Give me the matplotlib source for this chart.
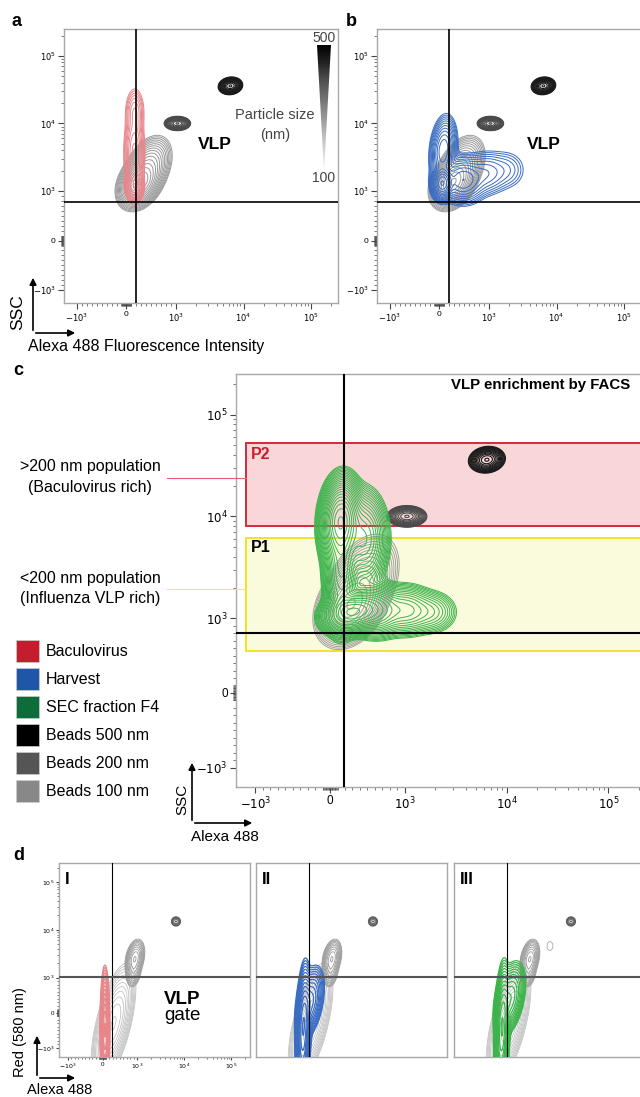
"""
VLP flow cytometry figure - contour plots on a biexponential-like axis
"""
import numpy as np
import matplotlib
matplotlib.use('Agg')
import matplotlib.pyplot as plt
from matplotlib.patches import Rectangle, Polygon, FancyArrowPatch
from matplotlib.lines import Line2D
from matplotlib.scale import SymmetricalLogTransform

W, H = 640, 1097

# ---- axis scale (FlowJo biex approximated by symlog) ----
LINTHRESH = 1000
LINSCALE = 0.66
LIMITS = (-1550, 2.5e5)
TICK_VALUES = [-1000, 0, 1000, 1e4, 1e5]
TICK_LABELS = ['$-10^3$', '0', '$10^3$', '$10^4$', '$10^5$']
LIN_MINOR = [k * 10 for k in range(1, 10)] + [k * 100 for k in range(1, 10)]
LOG_MINOR = [k * 10 ** e for e in (3, 4, 5) for k in range(2, 10) if k * 10 ** e < 2.5e5]
MINOR_TICKS = [-v for v in LIN_MINOR] + LIN_MINOR + LOG_MINOR

# ---- populations: (x centre, y centre, x spread, y spread [decades], corr, weight) ----
BEADS_500 = [(6400, 36000, 0.065, 0.047, 0.1, 1.0)]
BEADS_200 = [(1050, 10000, 0.07, 0.038, 0.0, 1.0)]
BEADS_100 = [(260, 1300, 0.12, 0.14, 0.3, 1.0),
             (420, 2100, 0.14, 0.19, 0.4, 0.4)]
BACULOVIRUS = [(160, 1200, 0.05, 0.08, 0.0, 1.0),
               (160, 3500, 0.06, 0.28, 0.0, 0.35),
               (170, 15000, 0.06, 0.15, 0.0, 0.12)]
HARVEST = [(60, 1300, 0.065, 0.10, 0.0, 1.0),
           (80, 4000, 0.08, 0.20, 0.2, 0.35),
           (476, 1460, 0.15, 0.15, 0.0, 0.25),
           (950, 1840, 0.15, 0.15, 0.0, 0.08),
           (1840, 2060, 0.15, 0.15, 0.0, 0.03)]
SEC_F4 = [(140, 9000, 0.08, 0.17, 0.1, 1.0),
          (450, 6000, 0.10, 0.20, 0.0, 0.25),
          (150, 3000, 0.07, 0.25, 0.0, 0.4),
          (300, 1150, 0.12, 0.085, 0.2, 0.8),
          (612, 1200, 0.12, 0.11, 0.0, 0.3),
          (1035, 1200, 0.12, 0.11, 0.0, 0.12),
          (1840, 1150, 0.12, 0.10, 0.0, 0.05)]

# panel d (Red 580 nm vs Alexa 488)
D_BEADS_500 = [(6700, 15000, 0.04, 0.04, 0.0, 1.0)]
D_BEADS_200 = [(940, 2600, 0.08, 0.15, 0.3, 1.0),
               (900, 1400, 0.07, 0.15, 0.2, 0.4)]
D_BEADS_100 = [(320, -300, 0.17, 0.45, 0.6, 1.0)]
D_EXTRA = [(2400, 4600, 0.04, 0.06, 0.0, 1.0)]
D_BACULOVIRUS = [(70, -500, 0.035, 0.45, 0.0, 1.0)]
D_HARVEST = [(110, -500, 0.06, 0.5, 0.25, 1.0), (300, 300, 0.12, 0.3, 0.4, 0.3)]
D_SEC_F4 = [(130, -500, 0.06, 0.5, 0.25, 1.0), (350, 400, 0.13, 0.3, 0.4, 0.35)]

LEGEND_LABELS = ['Baculovirus', 'Harvest', 'SEC fraction F4',
                 'Beads 500 nm', 'Beads 200 nm', 'Beads 100 nm']
LEGEND_COLORS = ['#c41e2e', '#1f56a8', '#0e6b3a', '#000000', '#555555', '#888888']

RED = '#e8868a'
BLUE = '#3a6cc2'
GREEN = '#3cb44b'

plt.rcParams['font.family'] = ['Liberation Sans', 'DejaVu Sans']
NARROW = ['Liberation Sans Narrow', 'Liberation Sans', 'DejaVu Sans']

TRANS = SymmetricalLogTransform(10, LINTHRESH, LINSCALE)


def to_units(v):
    a = np.atleast_1d(np.asarray(v, float))
    out = TRANS.transform_non_affine(a.ravel()).reshape(a.shape) / LINTHRESH
    return out if np.ndim(v) else float(out[0])


def from_units(u):
    a = np.atleast_1d(np.asarray(u, float))
    out = TRANS.inverted().transform_non_affine(a.ravel() * LINTHRESH).reshape(a.shape)
    return out if np.ndim(u) else float(out[0])


u = np.linspace(to_units(LIMITS[0]), to_units(LIMITS[1]), 500)
U, V = np.meshgrid(u, u)
X, Y = from_units(U), from_units(V)


def density(comps):
    Z = np.zeros_like(U)
    for cx, cy, sx, sy, rho, w in comps:
        dx = (U - to_units(cx)) / sx
        dy = (V - to_units(cy)) / sy
        q = (dx ** 2 - 2 * rho * dx * dy + dy ** 2) / (1 - rho ** 2)
        Z += w * np.exp(-q / 2)
    return Z / Z.max()


def contours(ax, comps, color, n, lo, lw=0.7, z=2):
    ax.contour(X, Y, density(comps), levels=np.geomspace(lo, 0.95, n),
               colors=color, linewidths=lw, zorder=z)


fig = plt.figure(figsize=(W / 100, H / 100), dpi=100)


def px_axes(l, t, w, h):
    return fig.add_axes([l / W, 1 - (t + h) / H, w / W, h / H])


def fpt(x, y):
    return (x / W, 1 - y / H)


def ftext(x, y, s, **kw):
    kw.setdefault('ha', 'center')
    kw.setdefault('va', 'center')
    fig.text(x / W, 1 - y / H, s, **kw)


def setup(ax, labelsize=6, ticks=True):
    ax.set_xscale('symlog', linthresh=LINTHRESH, linscale=LINSCALE)
    ax.set_yscale('symlog', linthresh=LINTHRESH, linscale=LINSCALE)
    ax.set_xlim(LIMITS)
    ax.set_ylim(LIMITS)
    for sp in ax.spines.values():
        sp.set_color('#a8a8a8')
        sp.set_linewidth(1)
    if ticks:
        ax.set_xticks(TICK_VALUES, TICK_LABELS)
        ax.set_yticks(TICK_VALUES, TICK_LABELS)
        ax.set_xticks(MINOR_TICKS, minor=True)
        ax.set_yticks(MINOR_TICKS, minor=True)
        ax.tick_params(which='major', length=4, width=0.8, color='#444',
                       labelsize=labelsize, pad=2)
        ax.tick_params(which='minor', length=2, width=0.5, color='#444')
    else:
        for s in (ax.set_xticks, ax.set_yticks):
            s([])
            s([], minor=True)


def quadrant(ax, xv, yv, lw=1.2):
    ax.axvline(xv, color='black', lw=lw, zorder=5)
    ax.axhline(yv, color='black', lw=lw, zorder=5)


def axis_arrows(cx, cy, top, right):
    for end in [(cx, top), (right, cy)]:
        fig.add_artist(FancyArrowPatch(fpt(cx, cy), fpt(*end), transform=fig.transFigure,
                                       arrowstyle='-|>', mutation_scale=10,
                                       lw=1.2, color='black'))


def beads(ax):
    contours(ax, BEADS_200, '#4a4a4a', 13, 0.02, lw=0.8)
    contours(ax, BEADS_500, '#1a1a1a', 14, 0.02, lw=0.8)


# ──────────────────────────────────────
# a. Baculovirus vs beads
# ──────────────────────────────────────
ax_a = px_axes(64, 29, 274, 274)
setup(ax_a)
contours(ax_a, BEADS_100, '#9a9a9a', 16, 0.01)
contours(ax_a, BACULOVIRUS, RED, 12, 0.01, z=3)
beads(ax_a)
quadrant(ax_a, 200, 780)
ax_a.text(0.55, 0.58, 'VLP', transform=ax_a.transAxes, ha='center', va='center',
          fontsize=12.5, fontweight='bold')
ftext(17, 22, 'a', fontsize=13, fontweight='bold')
ftext(275, 115, 'Particle size', fontsize=10.5, color='#444')
ftext(275, 135, '(nm)', fontsize=10.5, color='#444')
ftext(324, 38, '500', fontsize=10, color='#444')
ftext(324, 178, '100', fontsize=10, color='#444')

ax_g = px_axes(317, 45, 14, 127)
ax_g.axis('off')
grad = ax_g.imshow(np.linspace(0.12, 1, 256)[:, None], cmap='Greys', origin='lower',
                   extent=(0, 1, 0, 1), aspect='auto', vmin=0, vmax=1)
tri = Polygon([(0, 1), (1, 1), (0.5, 0)], closed=True, transform=ax_g.transData,
              facecolor='none', edgecolor='none')
ax_g.add_patch(tri)
grad.set_clip_path(tri)
ax_g.set_xlim(0, 1)
ax_g.set_ylim(0, 1)

ftext(18, 312, 'SSC', fontsize=12.5, rotation=90)
ftext(28, 347, 'Alexa 488 Fluorescence Intensity', fontsize=11.5, ha='left')
axis_arrows(33, 333, 275, 78)

# ──────────────────────────────────────
# b. Harvest vs beads
# ──────────────────────────────────────
ax_b = px_axes(377, 29, 274, 274)
setup(ax_b)
contours(ax_b, BEADS_100, '#9a9a9a', 16, 0.01)
contours(ax_b, HARVEST, BLUE, 15, 0.008, z=3)
beads(ax_b)
quadrant(ax_b, 200, 780)
ax_b.text(0.61, 0.58, 'VLP', transform=ax_b.transAxes, ha='center', va='center',
          fontsize=12.5, fontweight='bold')
ftext(351, 21, 'b', fontsize=13, fontweight='bold')

# ──────────────────────────────────────
# c. VLP enrichment by FACS
# ──────────────────────────────────────
ax_c = px_axes(236, 374, 413, 413)
setup(ax_c, labelsize=8.5)
ax_c.add_patch(Rectangle((-1236, 8000), 3e5, 52000 - 8000, facecolor='#f9d6d7',
                         edgecolor='#d42a3a', lw=1.4, zorder=1))
ax_c.add_patch(Rectangle((-1236, 560), 3e5, 6200 - 560, facecolor='#fafadc',
                         edgecolor='#f0e22a', lw=1.4, zorder=1))
contours(ax_c, BEADS_100, '#a0a0a0', 16, 0.01)
contours(ax_c, SEC_F4, GREEN, 22, 0.006, z=3)
beads(ax_c)
quadrant(ax_c, 180, 800, lw=1.5)
ax_c.text(0.036, 0.804, 'P2', transform=ax_c.transAxes, color='#c8202f',
          fontsize=11.5, fontweight='bold', va='center')
ax_c.text(0.036, 0.581, 'P1', transform=ax_c.transAxes, color='black',
          fontsize=11.5, fontweight='bold', va='center')
ftext(451, 385, 'VLP enrichment by FACS', fontsize=10.8, fontweight='bold', ha='left')
ftext(18, 370, 'c', fontsize=13, fontweight='bold')

ftext(90, 467, '>200 nm population', fontsize=11.5, family=NARROW)
ftext(90, 487, '(Baculovirus rich)', fontsize=11.5, family=NARROW)
ftext(90, 578, '<200 nm population', fontsize=11.5, family=NARROW)
ftext(90, 598, '(Influenza VLP rich)', fontsize=11.5, family=NARROW)
fig.add_artist(Line2D([167 / W, 246 / W], [1 - 478 / H] * 2, color='#e06070', lw=0.8))
fig.add_artist(Line2D([167 / W, 246 / W], [1 - 589 / H] * 2, color='#f0e68c', lw=0.8))

for i, (lab, col) in enumerate(zip(LEGEND_LABELS, LEGEND_COLORS)):
    yc = 651 + 28 * i
    fig.add_artist(Rectangle(fpt(16, yc + 11), 23 / W, 22 / H, transform=fig.transFigure,
                             facecolor=col, edgecolor='#cccccc', lw=0.5))
    ftext(46, yc, lab, fontsize=11.5, ha='left', family=NARROW)

ftext(182, 799, 'SSC', fontsize=11, rotation=90)
ftext(225, 837, 'Alexa 488', fontsize=11)
axis_arrows(192, 823, 760, 255)

# ──────────────────────────────────────
# d. VLP gate, Red (580 nm) vs Alexa 488
# ──────────────────────────────────────
d_panels = [(59, 'I', D_BACULOVIRUS, RED), (256, 'II', D_HARVEST, BLUE),
            (454, 'III', D_SEC_F4, GREEN)]
for k, (left, tag, pop, col) in enumerate(d_panels):
    ax = px_axes(left, 863, 191, 194)
    setup(ax, labelsize=4.5, ticks=(k == 0))
    if k == 0:
        ax.tick_params(which='major', length=2.5, pad=1)
        ax.tick_params(which='minor', length=1.2)
    contours(ax, D_BEADS_100, '#b8b8b8', 12, 0.02, lw=0.5)
    contours(ax, D_BEADS_200, '#999999', 10, 0.03, lw=0.6)
    contours(ax, D_BEADS_500, '#555555', 6, 0.05, lw=0.6)
    if k == 2:
        contours(ax, D_EXTRA, '#aaaaaa', 1, 0.3, lw=0.6)
    contours(ax, pop, col, 14, 0.01, lw=0.9, z=3)
    ax.axvline(280, color='black', lw=0.8, zorder=5)
    ax.axhline(1050, color='#555555', lw=1.5, zorder=5)
    ax.text(0.03, 0.955, tag, transform=ax.transAxes, fontsize=12, fontweight='bold',
            ha='left', va='top', family=NARROW)

ftext(182, 999, 'VLP', fontsize=13.5, fontweight='bold')
ftext(182, 1016, 'gate', fontsize=13.5)
ftext(19, 855, 'd', fontsize=13, fontweight='bold')
ftext(20, 1032, 'Red (580 nm)', fontsize=10.5, rotation=90)
ftext(60, 1090, 'Alexa 488', fontsize=10.5)
axis_arrows(37, 1078, 1033, 78)

fig.savefig('out.png', dpi=100, facecolor='white')
plt.close()
